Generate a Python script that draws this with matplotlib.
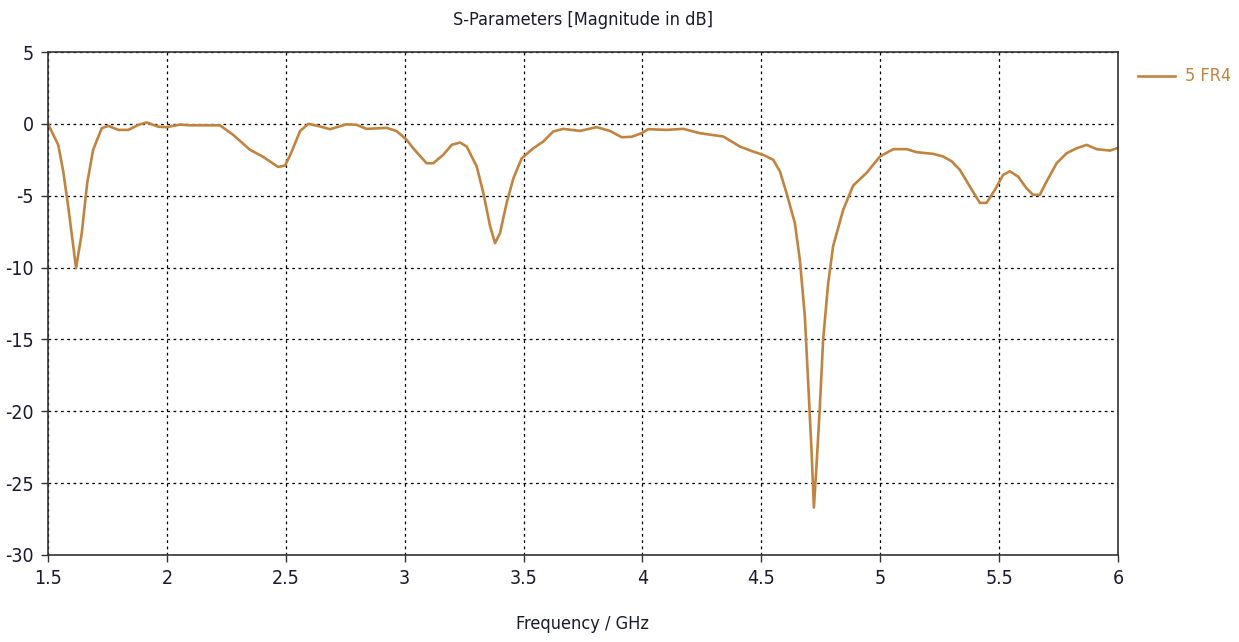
import matplotlib
matplotlib.use("Agg")
import matplotlib.pyplot as plt
from matplotlib import font_manager as fm

freq_ghz = [1.500, 1.543, 1.564, 1.585, 1.618, 1.642, 1.665, 1.690, 1.726, 1.754,
            1.796, 1.838, 1.880, 1.915, 1.964, 1.999, 2.055, 2.097, 2.223, 2.279,
            2.349, 2.405, 2.468, 2.497, 2.518, 2.560, 2.595, 2.644, 2.686, 2.756,
            2.798, 2.840, 2.924, 2.966, 3.008, 3.036, 3.092, 3.120, 3.162, 3.198,
            3.233, 3.261, 3.303, 3.331, 3.359, 3.380, 3.401, 3.429, 3.457, 3.492,
            3.541, 3.583, 3.625, 3.667, 3.738, 3.807, 3.863, 3.913, 3.955, 3.997,
            4.024, 4.101, 4.172, 4.242, 4.340, 4.410, 4.466, 4.508, 4.550, 4.578,
            4.606, 4.641, 4.662, 4.683, 4.697, 4.711, 4.721, 4.732, 4.746, 4.760,
            4.781, 4.802, 4.844, 4.886, 4.943, 4.999, 5.055, 5.111, 5.153, 5.223,
            5.264, 5.300, 5.335, 5.377, 5.419, 5.447, 5.482, 5.517, 5.545, 5.580,
            5.615, 5.643, 5.671, 5.700, 5.742, 5.784, 5.826, 5.868, 5.910, 5.966,
            6.000]
s_db = [0.00, -1.46, -3.30, -5.75, -10.04, -7.60, -4.10, -1.80, -0.30, -0.14,
        -0.42, -0.42, -0.07, 0.10, -0.20, -0.23, -0.05, -0.10, -0.10, -0.77,
        -1.80, -2.30, -3.00, -2.90, -2.20, -0.50, 0.00, -0.18, -0.37, -0.03,
        -0.07, -0.35, -0.28, -0.50, -1.10, -1.70, -2.74, -2.74, -2.16, -1.46,
        -1.30, -1.58, -2.97, -4.82, -7.10, -8.30, -7.60, -5.50, -3.80, -2.40,
        -1.70, -1.23, -0.53, -0.35, -0.49, -0.23, -0.49, -0.93, -0.90, -0.65,
        -0.37, -0.42, -0.35, -0.65, -0.88, -1.58, -1.93, -2.16, -2.50, -3.30,
        -4.82, -6.90, -9.46, -13.40, -18.00, -22.70, -26.70, -23.80, -19.70, -15.00,
        -11.10, -8.50, -6.00, -4.30, -3.40, -2.27, -1.76, -1.76, -1.97, -2.09,
        -2.27, -2.60, -3.20, -4.36, -5.50, -5.50, -4.60, -3.55, -3.30, -3.67,
        -4.48, -4.94, -4.94, -4.00, -2.74, -2.04, -1.70, -1.46, -1.76, -1.86,
        -1.67]
series_label = "5 FR4"
x_ticks = [1.5, 2, 2.5, 3, 3.5, 4, 4.5, 5, 5.5, 6]
x_tick_labels = ["1.5", "2", "2.5", "3", "3.5", "4", "4.5", "5", "5.5", "6"]
y_ticks = [5, 0, -5, -10, -15, -20, -25, -30]
y_tick_labels = ["5", "0", "-5", "-10", "-15", "-20", "-25", "-30"]

line_color = "#C08440"
text_color = "#1a1a2e"

plt.rcParams["font.family"] = ["DejaVu Sans"]
plt.rcParams["font.stretch"] = "condensed"
plt.rcParams["axes.unicode_minus"] = False

cond_path = None
for f in fm.fontManager.ttflist:
    if f.name == "DejaVu Sans" and "Condensed" in f.fname and "Bold" not in f.fname \
            and "Oblique" not in f.fname:
        cond_path = f.fname
        break

def fp(size):
    if cond_path:
        return fm.FontProperties(fname=cond_path, size=size)
    return fm.FontProperties(family="DejaVu Sans", stretch="condensed", size=size)

fig = plt.figure(figsize=(12.39, 6.42), dpi=100)
ax = fig.add_axes([48/1239, 1-555/642, (1118-48)/1239, (555-52)/642])

ax.plot(freq_ghz, s_db, color=line_color, lw=1.9, label=series_label)

ax.set_xlim(1.5, 6)
ax.set_ylim(-30, 5)
ax.set_xticks(x_ticks)
ax.set_xticklabels(x_tick_labels, fontproperties=fp(14))
ax.set_yticks(y_ticks)
ax.set_yticklabels(y_tick_labels, fontproperties=fp(14))
ax.grid(True, color="black", linestyle=(0, (2.2, 2.8)), linewidth=0.9)
for s in ax.spines.values():
    s.set_color("#333333")
    s.set_linewidth(1.2)
ax.tick_params(direction="out", length=5, width=1, colors="#333333",
               labelcolor=text_color, pad=5)

cx = 0.5 * (48 + 1118) / 1239
fig.text(cx, 1 - 20/642, "S-Parameters [Magnitude in dB]",
         ha="center", va="center", color=text_color, fontproperties=fp(13))
fig.text(cx, 1 - 624/642, "Frequency / GHz",
         ha="center", va="center", color=text_color, fontproperties=fp(13))

# legend
fig.lines.append(plt.Line2D([1138/1239, 1175/1239], [1-76/642, 1-76/642],
                            transform=fig.transFigure, color=line_color, lw=1.9))
fig.text(1185/1239, 1-76/642, series_label, ha="left", va="center",
         color=line_color, fontproperties=fp(13))

fig.savefig("out.png", dpi=100)
